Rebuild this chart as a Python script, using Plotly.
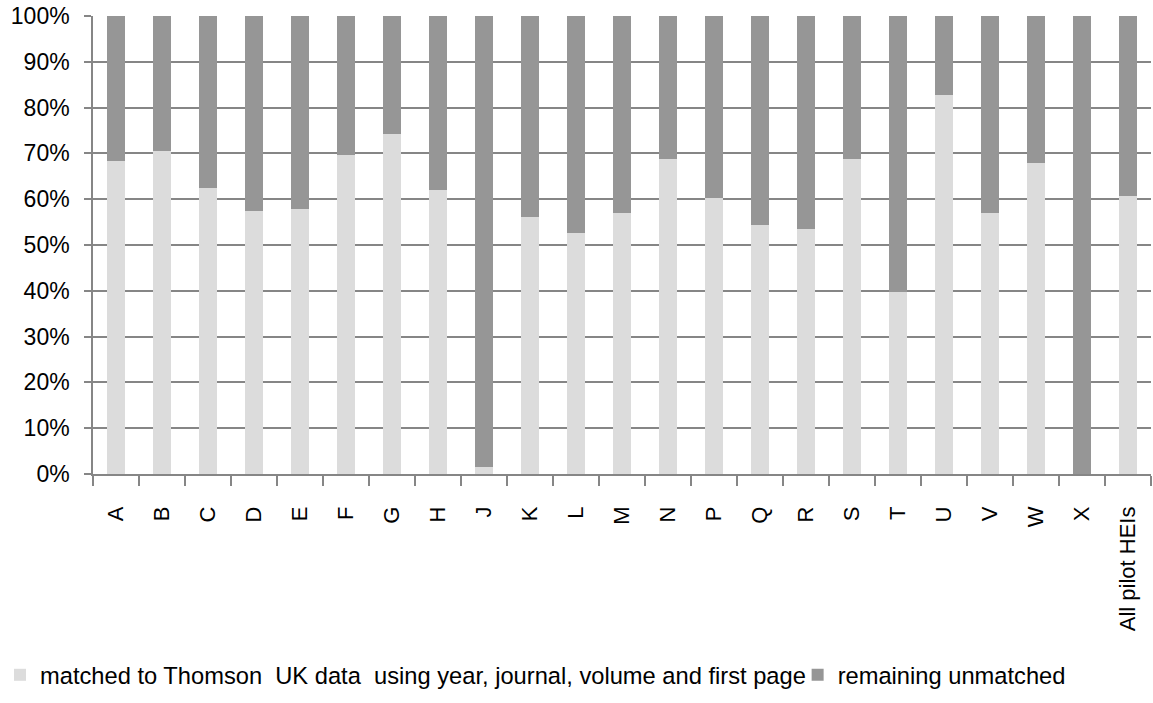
import plotly.graph_objects as go

categories = ["A", "B", "C", "D", "E", "F", "G", "H", "J", "K", "L", "M", "N",
              "P", "Q", "R", "S", "T", "U", "V", "W", "X", "All pilot HEIs"]
matched = [68.3, 70.5, 62.4, 57.4, 57.8, 69.6, 74.3, 62.0, 1.5, 56.1, 52.7, 56.9, 68.8,
           60.3, 54.4, 53.6, 68.8, 39.8, 82.7, 56.9, 67.9, 0.0, 60.7]
unmatched = [round(100 - m, 1) for m in matched]

matched_frac = [m / 100 for m in matched]
unmatched_frac = [u / 100 for u in unmatched]

font_family = "Liberation Sans, Arial, sans-serif"

fig = go.Figure()
fig.add_trace(go.Bar(
    x=categories, y=matched_frac,
    name="matched to Thomson  UK data  using year, journal, volume and first page",
    marker=dict(color="#dcdcdc", line=dict(width=0)),
    legend="legend",
))
fig.add_trace(go.Bar(
    x=categories, y=unmatched_frac,
    name="remaining unmatched",
    marker=dict(color="#969696", line=dict(width=0)),
    legend="legend2",
))

legend_common = dict(
    orientation="h",
    xref="paper", yref="container",
    xanchor="left", yanchor="middle",
    font=dict(size=23.7, family=font_family, color="#000000"),
    bgcolor="rgba(0,0,0,0)",
)

fig.update_layout(
    barmode="stack",
    bargap=0.62,
    width=1153, height=703,
    margin=dict(l=93, r=2, t=16, b=229),
    plot_bgcolor="white",
    paper_bgcolor="white",
    font=dict(family=font_family, size=22, color="#000000"),
    showlegend=True,
    legend=dict(x=-0.101, y=0.04, **legend_common),
    legend2=dict(x=0.666, y=0.04, **legend_common),
    xaxis=dict(
        type="category",
        tickangle=-90,
        ticks="outside",
        tickson="boundaries",
        ticklen=10,
        tickcolor="#868686",
        tickwidth=1.5,
        ticklabelstandoff=22,
        showline=True,
        linecolor="#868686",
        linewidth=1.5,
        showgrid=False,
        automargin=False,
        tickfont=dict(size=22, family=font_family),
    ),
    yaxis=dict(
        range=[0, 1],
        tickvals=[i / 10 for i in range(11)],
        tickformat=".0%",
        ticks="outside",
        ticklen=7,
        tickcolor="#868686",
        tickwidth=1.5,
        ticklabelstandoff=10,
        showline=True,
        linecolor="#868686",
        linewidth=1.5,
        showgrid=True,
        gridcolor="#868686",
        gridwidth=1.5,
        zeroline=False,
        automargin=False,
        tickfont=dict(size=23, family=font_family),
    ),
)

fig.write_html("out.html")
